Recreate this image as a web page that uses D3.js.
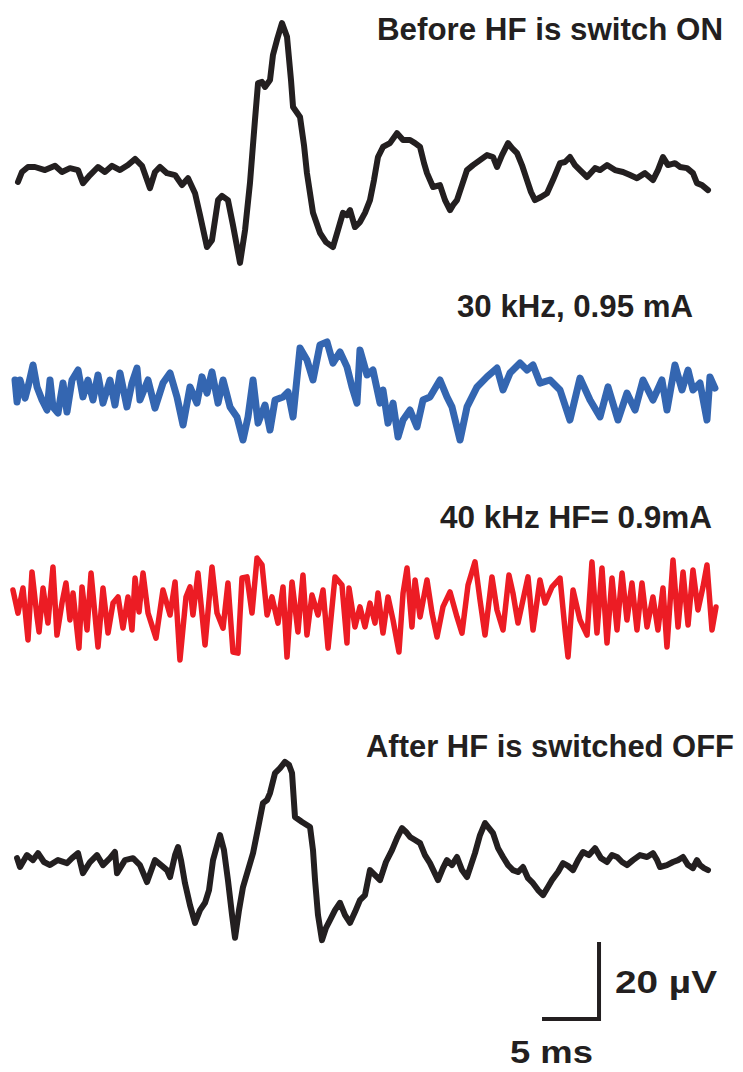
<!DOCTYPE html>
<html>
<head>
<meta charset="utf-8">
<script src="https://cdn.jsdelivr.net/npm/d3@7"></script>
<style>
  html, body { margin: 0; padding: 0; background: #fff; }
  svg { display: block; }
</style>
</head>
<body>
<svg id="chart" width="743" height="1072"></svg>
<script>
// Recorded evoked potentials: [time (ms), amplitude (µV)]
const beforeOn = [
  [0.26,-2.6],[0.61,0],[1.14,1.3],[1.75,1.3],[2.63,0.5],[3.51,1.6],[4.12,0],[4.82,1.0],[5.53,0.5],[5.96,-2.9],
  [6.58,-0.8],[7.28,1.3],[7.89,0],[8.51,1.6],[9.21,0.5],[9.91,1.8],[10.53,3.4],[11.14,1.6],[11.84,-4.2],[12.28,0],
  [12.72,1.3],[13.33,-0.3],[14.04,-0.8],[14.65,-3.4],[15.18,-1.6],[15.79,-5.5],[16.23,-11.2],[16.84,-19.5],[17.28,-17.7],[17.81,-7.3],
  [18.16,-6.2],[18.68,-7.3],[19.12,-13.8],[19.74,-23.6],[20.18,-15.1],[20.61,-2.9],[21.05,13.5],[21.32,23.1],[21.67,23.4],[21.93,22.1],
  [22.37,23.9],[22.63,30.4],[22.98,34.3],[23.42,38.7],[23.86,35.1],[24.21,23.9],[24.39,16.9],[25.0,14.3],[25.35,7.0],[25.61,-0.3],
  [26.14,-10.6],[26.75,-15.8],[27.28,-18.2],[27.89,-19.5],[28.33,-15.1],[28.77,-10.6],[29.12,-11.2],[29.39,-9.9],[29.82,-14.3],[30.26,-13.0],
  [30.70,-10.6],[31.14,-7.3],[31.49,-2.1],[31.84,3.9],[32.28,6.5],[32.89,7.5],[33.51,10.1],[34.04,8.3],[34.65,8.3],[35.09,7.5],
  [35.53,6.5],[35.88,2.3],[36.14,-0.3],[36.67,-3.9],[37.28,-3.4],[37.72,-7.3],[38.16,-9.9],[38.42,-8.6],[38.77,-7.3],[39.21,-3.4],
  [39.65,0.5],[40.18,1.8],[40.79,3.1],[41.40,4.4],[41.93,3.9],[42.28,1.3],[42.72,4.4],[43.25,7.5],[43.60,6.2],[44.04,4.9],
  [44.47,1.8],[44.91,-2.1],[45.26,-5.2],[45.61,-7.3],[46.14,-6.5],[46.67,-5.5],[47.19,-2.1],[47.81,2.3],[48.25,2.6],[48.68,3.9],
  [49.12,1.8],[49.56,0.5],[50.18,-1.3],[50.88,1.0],[51.32,0.5],[51.93,1.8],[52.63,0.5],[53.33,0],[53.95,-0.8],[54.56,-1.6],
  [55.26,-0.3],[55.96,-2.1],[56.40,0.5],[56.84,3.9],[57.28,1.8],[57.89,2.3],[58.33,1.3],[58.95,1.0],[59.47,-0.3],[59.82,-2.9],
  [60.26,-3.4],[60.79,-4.7]
];

const hf30k = [
  [0,2.6],[0.18,-3.1],[0.44,2.6],[0.88,-2.1],[1.14,0.8],[1.58,6.5],[1.93,0.8],[2.37,-2.6],[2.81,-5.2],[3.07,2.6],
  [3.33,-4.4],[3.77,-6.0],[4.21,1.8],[4.56,-5.7],[5.0,2.6],[5.53,5.2],[5.96,-1.8],[6.40,2.6],[6.84,-2.6],[7.28,3.9],
  [7.72,-3.4],[8.33,2.6],[8.77,-3.9],[9.21,4.4],[9.82,-4.4],[10.26,1.8],[10.70,5.7],[10.96,-2.6],[11.67,2.6],[12.28,-4.7],
  [12.98,1.8],[13.60,4.4],[14.21,-1.8],[14.74,-9.1],[15.35,0.8],[15.96,-3.4],[16.40,3.4],[16.84,-0.8],[17.28,4.7],[17.81,-3.4],
  [18.25,2.6],[18.86,-4.4],[19.47,-7.0],[20.0,-13.0],[20.44,-7.0],[20.88,2.6],[21.32,-8.6],[21.93,-3.9],[22.37,-10.4],[22.81,-2.6],
  [23.51,-1.8],[23.95,-0.5],[24.39,-7.0],[25.0,10.9],[25.61,7.8],[26.14,2.6],[26.75,11.7],[27.37,12.5],[27.89,7.0],[28.51,9.9],
  [29.12,6.0],[29.56,0.8],[30.0,-3.4],[30.26,10.4],[30.88,3.9],[31.40,5.2],[32.02,-3.4],[32.28,0],[32.72,-8.6],[33.16,-3.4],
  [33.60,-12.2],[34.04,-7.8],[34.65,-5.2],[35.26,-9.6],[35.79,-2.6],[36.40,-1.8],[37.28,2.6],[37.89,-1.8],[38.33,-4.4],[39.04,-13.0],
  [39.65,-4.4],[40.53,0.8],[41.40,3.4],[42.28,5.7],[42.81,0],[43.42,4.4],[44.30,7.0],[44.91,5.2],[45.44,6.5],[46.05,1.8],
  [46.93,2.6],[47.81,0],[48.68,-7.8],[49.56,3.1],[50.44,-2.6],[51.32,-7.0],[52.02,0.8],[52.89,-7.8],[53.68,-0.8],[54.39,-5.2],
  [55.09,2.6],[55.96,-2.6],[56.75,2.6],[57.19,-5.2],[57.89,6.5],[58.51,0],[59.04,5.2],[59.47,0],[60.09,1.8],[60.70,-7.8],
  [60.96,3.4],[61.40,0.5]
];

const hf40k = [
  [-0.18,3.9],[0.26,-2.1],[0.70,4.4],[1.14,-9.1],[1.49,8.6],[1.93,-3.1],[2.11,-7.0],[2.46,4.4],[2.89,-4.7],[3.33,9.9],
  [3.68,-7.8],[4.12,0.5],[4.47,5.7],[4.82,-3.9],[5.09,3.1],[5.61,-11.2],[5.88,4.7],[6.32,-6.5],[6.67,8.3],[7.28,-10.9],
  [7.72,4.4],[8.16,-7.3],[8.60,0.5],[9.04,2.1],[9.47,-6.0],[9.91,2.1],[10.26,-6.5],[10.53,7.0],[10.88,-1.8],[11.23,8.3],
  [11.67,-2.1],[12.37,-8.6],[12.98,3.9],[13.60,-2.6],[14.04,6.0],[14.47,-14.3],[15.0,2.1],[15.35,4.7],[15.61,-2.6],[16.05,8.3],
  [16.67,-10.4],[17.28,9.9],[17.72,-2.1],[18.25,-6.0],[18.68,5.7],[19.12,-12.2],[19.56,-12.5],[19.91,7.0],[20.35,7.3],[20.79,-2.1],
  [21.23,12.2],[21.67,10.4],[22.11,-2.6],[22.54,2.1],[23.07,-4.7],[23.51,4.7],[23.86,-13.5],[24.30,6.0],[24.82,-7.0],[25.26,7.8],
  [25.61,-7.8],[26.05,2.6],[26.58,-2.6],[27.02,3.9],[27.46,-11.2],[28.07,7.3],[28.68,5.2],[29.12,-9.9],[29.30,4.4],[29.82,-5.7],
  [30.26,-0.5],[30.70,-5.7],[31.14,0.5],[31.58,-4.7],[31.84,3.1],[32.28,-7.3],[32.72,2.1],[33.16,-3.9],[33.68,-12.2],[34.04,3.1],
  [34.39,9.6],[34.82,-5.7],[35.09,6.5],[35.53,-3.1],[36.14,6.5],[36.58,-2.1],[37.02,-8.3],[37.54,-0.5],[38.16,3.4],[38.77,-3.1],
  [39.21,-7.3],[39.74,5.2],[40.35,11.2],[40.79,1.3],[41.23,-7.8],[41.84,7.3],[42.28,-1.3],[42.81,-6.5],[43.33,7.8],[43.68,3.1],
  [44.12,-4.7],[44.56,1.3],[45.0,7.3],[45.44,-6.5],[46.05,6.5],[46.49,0.5],[47.11,4.7],[47.81,7.0],[48.25,-6.5],[48.51,-13.5],
  [48.95,3.9],[49.56,-3.9],[50.18,-7.8],[50.61,11.2],[51.05,-7.3],[51.49,9.6],[51.93,-9.9],[52.37,7.0],[52.81,-6.5],[53.25,8.3],
  [53.68,-3.9],[54.12,5.7],[54.56,-6.5],[55.0,5.7],[55.44,-5.7],[55.96,2.1],[56.40,-6.5],[56.84,4.4],[57.19,-10.9],[57.72,11.7],
  [58.16,-5.7],[58.60,8.6],[59.04,-5.2],[59.47,9.1],[59.91,-1.3],[60.35,4.7],[60.70,10.4],[61.14,-6.5],[61.49,-0.5]
];

const afterOff = [
  [0.18,1.0],[0.44,-1.3],[1.05,1.8],[1.58,0.5],[2.02,2.3],[2.54,0],[3.07,-0.8],[3.77,0.5],[4.56,-0.3],[5.0,1.0],
  [5.53,2.3],[5.96,-2.9],[6.58,0],[7.19,1.8],[7.72,-0.8],[8.33,1.0],[8.77,2.6],[8.95,-2.9],[9.65,0.5],[10.35,1.0],
  [10.96,-0.8],[11.58,-5.2],[12.28,0.5],[12.89,-1.0],[13.33,-2.1],[13.60,-3.9],[14.04,1.8],[14.30,3.9],[14.56,0.5],[14.91,-5.5],
  [15.35,-11.2],[15.79,-15.8],[16.23,-12.5],[16.67,-10.6],[17.02,-7.3],[17.37,0.5],[17.98,7.0],[18.33,3.1],[18.68,-4.7],[19.04,-13.8],
  [19.30,-19.7],[19.65,-12.5],[20.0,-6.5],[20.44,-2.1],[20.88,2.3],[21.32,8.8],[21.75,15.3],[22.11,16.1],[22.37,17.9],[22.81,23.1],
  [23.25,24.4],[23.68,26.0],[24.04,25.2],[24.30,23.1],[24.56,11.7],[25.18,10.4],[25.88,9.1],[26.14,3.1],[26.32,-4.7],[26.58,-13.8],
  [26.93,-20.3],[27.28,-17.1],[27.63,-15.1],[28.07,-12.5],[28.51,-10.6],[28.95,-13.8],[29.39,-15.8],[29.82,-13.0],[30.26,-9.9],[30.70,-8.6],
  [31.14,-2.1],[31.58,-3.4],[32.02,-4.7],[32.54,0],[33.07,3.1],[33.51,6.2],[33.95,8.8],[34.30,7.8],[34.65,6.5],[35.09,5.7],
  [35.53,4.9],[35.96,1.8],[36.40,-0.3],[37.11,-4.7],[37.54,-1.6],[37.89,0.5],[38.33,-0.8],[38.77,1.3],[39.21,-2.1],[39.65,-3.9],
  [40.0,-0.8],[40.35,2.3],[40.79,7.0],[41.23,10.1],[41.58,8.8],[41.93,7.5],[42.37,3.6],[42.81,1.3],[43.25,-0.8],[43.68,-2.1],
  [44.12,-2.6],[44.56,-1.3],[45.0,-4.2],[45.44,-5.5],[45.88,-7.3],[46.32,-8.6],[46.75,-6.5],[47.11,-4.7],[47.63,-2.6],[48.07,-0.3],
  [48.51,-1.0],[48.95,-2.1],[49.39,0.5],[49.82,2.6],[50.35,1.8],[50.88,3.6],[51.40,1.0],[51.93,0],[52.37,1.8],[52.81,1.3],
  [53.25,0],[53.68,-0.8],[54.21,0.5],[54.82,1.8],[55.44,1.3],[55.96,2.3],[56.32,0.5],[56.58,-1.3],[57.19,-0.8],[57.72,0],
  [58.16,0.5],[58.60,1.3],[59.04,-0.8],[59.47,-1.6],[59.82,0.5],[60.09,-0.8],[60.44,-1.6],[60.79,-2.1]
];

const traceLabels = ["Before HF is switch ON", "30 kHz, 0.95 mA", "40 kHz HF= 0.9mA", "After HF is switched OFF"];
const scaleBar = { ms: 5, uv: 20, msLabel: "5 ms", uvLabel: "20 µV" };

// ---- layout ----
const svg = d3.select("#chart");
const ink = "#231f20";
const font = "'Liberation Sans', Arial, sans-serif";

const x = d3.scaleLinear().domain([0, 61.5]).range([15, 716.1]);
const uvPx = 77 / 20;   // vertical gain shared by all traces

const panels = [
  { data: beforeOn, base: 172, color: ink,       width: 6.0, label: { x: 377, y: 40,  w: 346 } },
  { data: hf30k,    base: 390, color: "#3466b1", width: 7.0, label: { x: 457, y: 317, w: 236 } },
  { data: hf40k,    base: 605, color: "#ec1c24", width: 5.5, label: { x: 440, y: 528, w: 272 } },
  { data: afterOff, base: 862, color: ink,       width: 6.0, label: { x: 366, y: 757, w: 368 } }
];

panels.forEach((p, i) => {
  const y = d3.scaleLinear().domain([0, 20]).range([p.base, p.base - 20 * uvPx]);
  const line = d3.line().x(d => x(d[0])).y(d => y(d[1]));
  svg.append("path")
    .datum(p.data)
    .attr("d", line)
    .attr("fill", "none")
    .attr("stroke", p.color)
    .attr("stroke-width", p.width)
    .attr("stroke-linejoin", "round")
    .attr("stroke-linecap", "round");

  svg.append("text")
    .attr("x", p.label.x)
    .attr("y", p.label.y)
    .attr("textLength", p.label.w)
    .attr("lengthAdjust", "spacingAndGlyphs")
    .attr("font-family", font)
    .attr("font-weight", "bold")
    .attr("font-size", 31)
    .attr("fill", ink)
    .text(traceLabels[i]);
});

// ---- scale bar (5 ms / 20 µV) ----
const barY = d3.scaleLinear().domain([0, 20]).range([1019, 1019 - 20 * uvPx]);
const barT0 = 46.23;
svg.append("path")
  .attr("d", d3.line()([
    [x(barT0), barY(0)],
    [x(barT0 + scaleBar.ms), barY(0)],
    [x(barT0 + scaleBar.ms), barY(scaleBar.uv)]
  ]))
  .attr("fill", "none")
  .attr("stroke", ink)
  .attr("stroke-width", 4)
  .attr("stroke-linejoin", "miter");

svg.append("text")
  .attr("x", 615).attr("y", 993)
  .attr("textLength", 102).attr("lengthAdjust", "spacingAndGlyphs")
  .attr("font-family", font).attr("font-weight", "bold").attr("font-size", 31)
  .attr("fill", ink)
  .text(scaleBar.uvLabel);

svg.append("text")
  .attr("x", 510).attr("y", 1063)
  .attr("textLength", 83).attr("lengthAdjust", "spacingAndGlyphs")
  .attr("font-family", font).attr("font-weight", "bold").attr("font-size", 31)
  .attr("fill", ink)
  .text(scaleBar.msLabel);
</script>
</body>
</html>
